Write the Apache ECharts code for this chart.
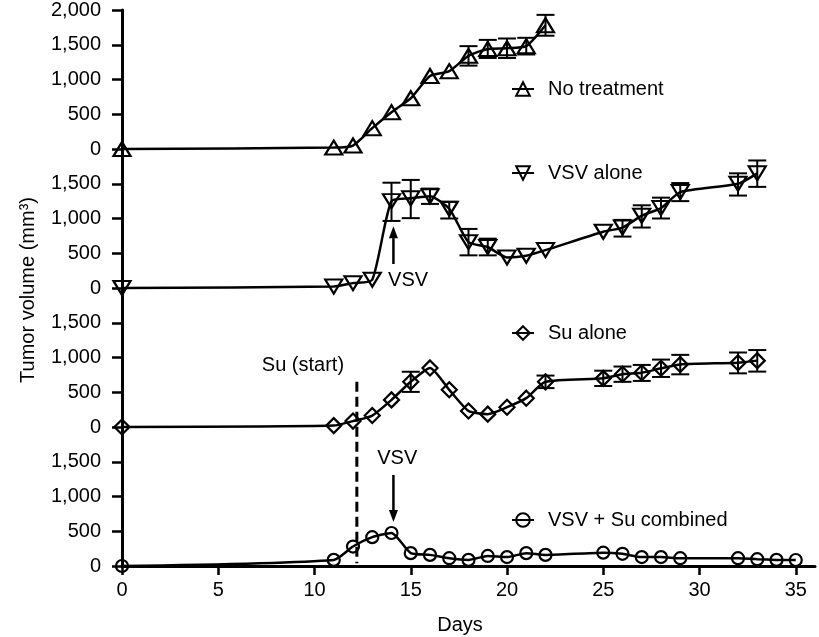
<!DOCTYPE html>
<html>
<head>
<meta charset="utf-8">
<script src="https://cdn.jsdelivr.net/npm/echarts@6/dist/echarts.min.js"></script>
<style>
html,body{margin:0;padding:0;background:#fff;}
#chart{width:819px;height:637px;}
</style>
</head>
<body>
<div id="chart"></div>
<script>
// ---------- data ----------
const seriesNames = ['No treatment', 'VSV alone', 'Su alone', 'VSV + Su combined'];

const daysNoTreat = [0, 11, 12, 13, 14, 15, 16, 17, 18, 19, 20, 21, 22];
const valsNoTreat = [0, 20, 50, 300, 530, 730, 1050, 1120, 1340, 1440, 1450, 1480, 1780];
const errNoTreat = [[18, 1340, 140], [19, 1440, 130], [20, 1450, 140], [21, 1480, 120], [22, 1780, 150]];

const daysVsv = [0, 11, 12, 13, 14, 15, 16, 17, 18, 19, 20, 21, 22, 25, 26, 27, 28, 29, 32, 33];
const valsVsv = [0, 20, 70, 120, 1250, 1290, 1320, 1140, 660, 590, 440, 465, 545, 810, 870, 1040, 1150, 1380, 1500, 1650];
const errVsv = [[14, 1240, 275], [15, 1280, 275], [16, 1320, 110], [17, 1120, 120], [18, 660, 190], [19, 590, 120],
                [26, 860, 120], [27, 1030, 160], [28, 1150, 150], [29, 1380, 130], [32, 1490, 160], [33, 1645, 190]];

const daysSu = [0, 11, 12, 13, 14, 15, 16, 17, 18, 19, 20, 21, 22, 25, 26, 27, 28, 29, 32, 33];
const valsSu = [0, 20, 85, 165, 390, 650, 850, 535, 230, 185, 285, 415, 650, 700, 760, 780, 845, 900, 925, 955];
const errSu = [[15, 650, 145], [22, 650, 90], [25, 700, 110], [26, 760, 110], [27, 778, 115], [28, 845, 125],
               [29, 898, 140], [32, 922, 150], [33, 952, 155]];

const daysCombo = [0, 11, 12, 13, 14, 15, 16, 17, 18, 19, 20, 21, 22, 25, 26, 27, 28, 29, 32, 33, 34, 35];
const valsCombo = [0, 88, 280, 415, 475, 185, 160, 112, 88, 145, 128, 185, 160, 192, 175, 128, 128, 112, 112, 98, 88, 86];
const errCombo = [];

const xTicks = [0, 5, 10, 15, 20, 25, 30, 35];
const yTicks = [0, 500, 1000, 1500, 2000];

// ---------- layout / style ----------
const FONT = "'Liberation Sans', Arial, Helvetica, sans-serif";
const GRID_LEFT = 122, GRID_RIGHT = 4, GRID_TOP0 = 10, GRID_H = 139;
const X_MAX = 36;
const symbols = [
  {symbol: 'triangle', size: [17, 14], rotate: 0},
  {symbol: 'triangle', size: [17, 14], rotate: 180},
  {symbol: 'diamond', size: [15, 15], rotate: 0},
  {symbol: 'circle', size: 12, rotate: 0}
];
const legendCenters = [88, 172, 332, 519];

const allDays = [daysNoTreat, daysVsv, daysSu, daysCombo];
const allVals = [valsNoTreat, valsVsv, valsSu, valsCombo];
const allErr = [errNoTreat, errVsv, errSu, errCombo];

function fmt(v) {
  return String(v).replace(/\B(?=(\d{3})+(?!\d))/g, ',');
}

const grids = [], xAxes = [], yAxes = [], series = [], legends = [];
for (let i = 0; i < 4; i++) {
  grids.push({left: GRID_LEFT, right: GRID_RIGHT, top: GRID_TOP0 + i * GRID_H, height: GRID_H, containLabel: false});
  const isBottom = i === 3;
  xAxes.push({
    type: 'value', gridIndex: i, min: 0, max: X_MAX, interval: 5,
    show: isBottom,
    axisLine: {show: isBottom, lineStyle: {color: '#000', width: 3}},
    axisTick: {show: isBottom, length: 9, customValues: xTicks, lineStyle: {color: '#000', width: 2.5}},
    axisLabel: {show: isBottom, customValues: xTicks, margin: 14, color: '#000', fontSize: 20, fontFamily: FONT,
      formatter: v => (v % 5 === 0 ? String(v) : '')},
    splitLine: {show: false}
  });
  yAxes.push({
    type: 'value', gridIndex: i, min: 0, max: 2000, interval: 500,
    axisLine: {show: true, lineStyle: {color: '#000', width: 3}},
    axisTick: {show: true, length: 10, lineStyle: {color: '#000', width: 2.5}},
    axisLabel: {color: '#000', fontSize: 20, fontFamily: FONT, margin: 21,
      showMaxLabel: i === 0, formatter: v => fmt(v)},
    splitLine: {show: false}
  });
  const sym = symbols[i];
  series.push({
    name: seriesNames[i], type: 'line', xAxisIndex: i, yAxisIndex: i,
    data: allDays[i].map((d, k) => [d, allVals[i][k]]),
    symbol: sym.symbol, symbolSize: sym.size, symbolRotate: sym.rotate,
    showAllSymbol: true, clip: false, smooth: 0.2,
    lineStyle: {color: '#000', width: 2.5},
    itemStyle: {color: 'rgba(255,255,255,0)', borderColor: '#000', borderWidth: 2.2},
    emphasis: {disabled: true}, z: 3
  });
  if (allErr[i].length) {
    series.push({
      type: 'custom', xAxisIndex: i, yAxisIndex: i, clip: false, z: 4,
      data: allErr[i].map(e => [e[0], e[1] - e[2], e[1] + e[2]]),
      encode: {x: 0, y: [1, 2]},
      renderItem: function (params, api) {
        const x = api.value(0), lo = api.value(1), hi = api.value(2);
        const pHi = api.coord([x, hi]), pLo = api.coord([x, lo]);
        const hw = 9;
        const st = {stroke: '#000', lineWidth: 2};
        return {type: 'group', children: [
          {type: 'line', shape: {x1: pHi[0], y1: pHi[1], x2: pLo[0], y2: pLo[1]}, style: st},
          {type: 'line', shape: {x1: pHi[0] - hw, y1: pHi[1], x2: pHi[0] + hw, y2: pHi[1]}, style: st},
          {type: 'line', shape: {x1: pLo[0] - hw, y1: pLo[1], x2: pLo[0] + hw, y2: pLo[1]}, style: st}
        ]};
      }
    });
  }
  legends.push({
    data: [seriesNames[i]], left: 506, top: legendCenters[i] - 14,
    itemWidth: 22, itemHeight: 17, selectedMode: false,
    textStyle: {color: '#000', fontSize: 20, fontFamily: FONT, padding: [0, 0, 0, 9]}
  });
}

const option = {
  animation: false,
  backgroundColor: '#fff',
  grid: grids, xAxis: xAxes, yAxis: yAxes, series: series, legend: legends
};

const chart = echarts.init(document.getElementById('chart'), null, {renderer: 'canvas'});
chart.setOption(option);

// ---------- annotations (data coordinates -> pixels) ----------
const P = (g, x, y) => chart.convertToPixel({gridIndex: g}, [x, y]);
function arrow(tail, tip) {
  const dir = tip[1] < tail[1] ? -1 : 1;
  const headLen = 12, headHalf = 4.5;
  return [
    {type: 'line', shape: {x1: tail[0], y1: tail[1], x2: tip[0], y2: tip[1] - dir * headLen}, style: {stroke: '#000', lineWidth: 2.5}},
    {type: 'polygon', shape: {points: [[tip[0], tip[1]], [tip[0] - headHalf, tip[1] - dir * headLen], [tip[0] + headHalf, tip[1] - dir * headLen]]}, style: {fill: '#000'}}
  ];
}
const a1Tail = P(1, 14.1, 345), a1Tip = P(1, 14.1, 890);
const a2Tail = P(3, 14.1, 1310), a2Tip = P(3, 14.1, 633);
const dTop = P(2, 12.2, 650), dBot = P(3, 12.2, 40);
const t1 = P(1, 14.86, 110), t2 = P(2, 9.4, 880), t3 = P(3, 14.3, 1554);
const txt = (p, s) => ({type: 'text', x: p[0], y: p[1], style: {text: s, fill: '#000', font: '20px ' + FONT, align: 'center', verticalAlign: 'middle'}});

chart.setOption({
  graphic: [
    ...arrow(a1Tail, a1Tip),
    ...arrow(a2Tail, a2Tip),
    {type: 'line', shape: {x1: dTop[0], y1: dTop[1], x2: dBot[0], y2: dBot[1]}, style: {stroke: '#000', lineWidth: 3, lineDash: [10, 5]}},
    txt(t1, 'VSV'), txt(t2, 'Su (start)'), txt(t3, 'VSV'),
    {type: 'text', x: 460, y: 625, style: {text: 'Days', fill: '#000', font: '20px ' + FONT, align: 'center', verticalAlign: 'middle'}},
    {type: 'text', x: 28, y: 290, rotation: Math.PI / 2,
      style: {text: 'Tumor volume (mm³)', fill: '#000', font: '20px ' + FONT, align: 'center', verticalAlign: 'middle'}}
  ]
});
</script>
</body>
</html>
